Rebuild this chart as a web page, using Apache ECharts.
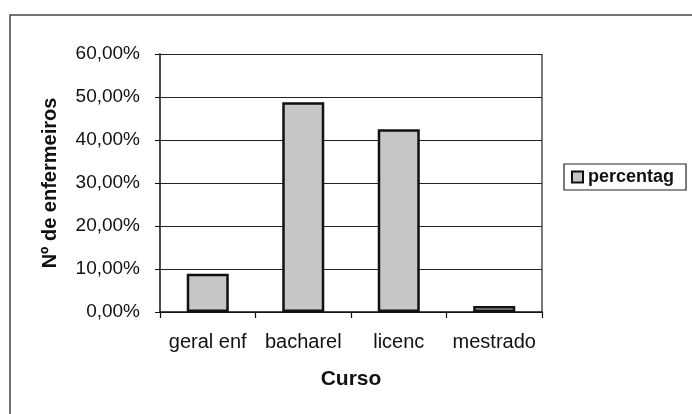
<!DOCTYPE html>
<html>
<head>
<meta charset="utf-8">
<script src="https://cdn.jsdelivr.net/npm/echarts@6/dist/echarts.min.js"></script>
<style>
  html, body { margin: 0; padding: 0; background: #fff; }
  #main { width: 692px; height: 414px; }
</style>
</head>
<body>
<div id="main"></div>
<script>
// dados do gráfico
var cursos = ['geral enf', 'bacharel', 'licenc', 'mestrado'];
var percentag = [8.9, 48.8, 42.5, 1.4];
var yTicks = [0, 10, 20, 30, 40, 50, 60];

var myChart = echarts.init(document.getElementById('main'));
var fonte = 'Liberation Sans, Arial, sans-serif';

myChart.setOption({
    animation: false,
    backgroundColor: '#fff',
    graphic: [{
        type: 'rect',
        shape: { x: 10, y: 15, width: 720, height: 440 },
        style: { fill: 'none', stroke: '#444', lineWidth: 1.5 },
        silent: true
    }, {
        // linha da direita da área do gráfico
        type: 'line',
        shape: { x1: 542, y1: 54, x2: 542, y2: 312 },
        style: { stroke: '#222', lineWidth: 1.2 },
        silent: true
    }],
    legend: {
        left: 564,
        top: 164,
        orient: 'vertical',
        icon: 'rect',
        itemWidth: 11,
        itemHeight: 11,
        itemGap: 0,
        padding: [4, 12, 4, 7],
        borderColor: '#222',
        borderWidth: 1.2,
        textStyle: { fontFamily: fonte, fontWeight: 'bold', fontSize: 18, lineHeight: 18, color: '#111', padding: [0, 0, 0, 0] },
        data: ['percentag']
    },
    grid: { left: 160, right: 150, top: 54, bottom: 102 },
    xAxis: {
        type: 'category',
        data: cursos,
        name: 'Curso',
        nameLocation: 'middle',
        nameGap: 57,
        nameTextStyle: { fontFamily: fonte, fontWeight: 'bold', fontSize: 21, color: '#111' },
        axisLine: { lineStyle: { color: '#111', width: 1.5 } },
        axisTick: { show: true, interval: 0, length: 6, lineStyle: { color: '#111', width: 1.2 } },
        axisLabel: { interval: 0, fontFamily: fonte, fontSize: 20, color: '#111', margin: 20 }
    },
    yAxis: {
        type: 'value',
        min: 0,
        max: 60,
        interval: 10,
        name: 'Nº de enfermeiros',
        nameLocation: 'middle',
        nameGap: 100,
        nameTextStyle: { fontFamily: fonte, fontWeight: 'bold', fontSize: 20, color: '#111' },
        axisLine: { show: true, lineStyle: { color: '#111', width: 1.5 } },
        axisTick: { show: true, length: 5, lineStyle: { color: '#111' } },
        axisLabel: {
            fontFamily: fonte, fontSize: 19, color: '#111', margin: 20,
            formatter: function (v) {
                return yTicks.indexOf(v) >= 0 ? v.toFixed(2).replace('.', ',') + '%' : '';
            }
        },
        splitLine: { lineStyle: { color: '#222', width: 1 } }
    },
    series: [{
        name: 'percentag',
        type: 'bar',
        data: percentag,
        barWidth: '44%',
        itemStyle: {
            color: '#c6c6c6',
            borderColor: '#111',
            borderWidth: 2.5
        }
    }]
});
</script>
</body>
</html>
